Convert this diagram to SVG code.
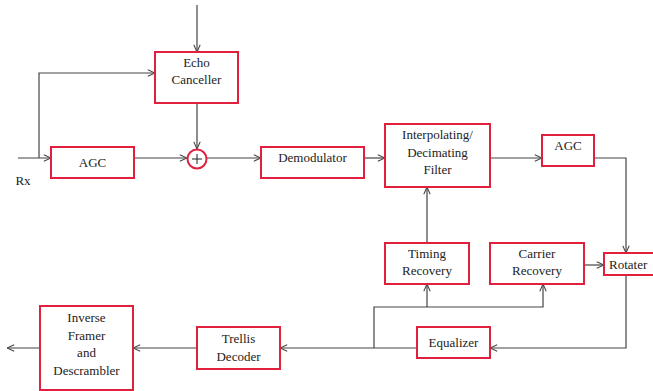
<svg xmlns="http://www.w3.org/2000/svg" width="653" height="391" viewBox="0 0 653 391">
<style>
.box{fill:#fff;stroke:#e0203c;stroke-width:2}
.ln{fill:none;stroke:#444;stroke-width:1.2}
.t{font-family:"Liberation Serif","Times New Roman",serif;font-size:13px;fill:#222;text-anchor:middle}
</style>
<defs>
<marker id="ah" viewBox="0 0 10 10" refX="10" refY="5" markerWidth="8" markerHeight="8" markerUnits="userSpaceOnUse" orient="auto">
<path d="M1,1 L10,5 L1,9" fill="none" stroke="#444" stroke-width="1.3"/>
</marker>
</defs>
<rect width="653" height="391" fill="#fff"/>
<g id="connectors">
<path class="ln" d="M197,5 V52" marker-end="url(#ah)"/>
<path class="ln" d="M39,158 V73 H155" marker-end="url(#ah)"/>
<path class="ln" d="M18,158 H51" marker-end="url(#ah)"/>
<path class="ln" d="M134,158 H187" marker-end="url(#ah)"/>
<path class="ln" d="M197,103 V149" marker-end="url(#ah)"/>
<path class="ln" d="M207,158 H261" marker-end="url(#ah)"/>
<path class="ln" d="M364,158 H385" marker-end="url(#ah)"/>
<path class="ln" d="M490,158 H542" marker-end="url(#ah)"/>
<path class="ln" d="M594,158 H626 V253" marker-end="url(#ah)"/>
<path class="ln" d="M584,265 H604" marker-end="url(#ah)"/>
<path class="ln" d="M427,243 V187" marker-end="url(#ah)"/>
<path class="ln" d="M374,348 V307 H543 V284" marker-end="url(#ah)"/>
<path class="ln" d="M427,307 V284" marker-end="url(#ah)"/>
<path class="ln" d="M626,275 V348 H490" marker-end="url(#ah)"/>
<path class="ln" d="M417,348 H280" marker-end="url(#ah)"/>
<path class="ln" d="M197,348 H133" marker-end="url(#ah)"/>
<path class="ln" d="M40,348 H7" marker-end="url(#ah)"/>
</g>
<g id="echo">
<rect class="box" x="155" y="52" width="83" height="51"/>
<text class="t" x="196.5" y="67">Echo</text>
<text class="t" x="196.5" y="84">Canceller</text>
</g>
<g id="agc1">
<rect class="box" x="51" y="147" width="83" height="31"/>
<text class="t" x="92.5" y="167">AGC</text>
</g>
<g id="sum">
<circle cx="197" cy="159" r="9.5" fill="#fff" stroke="#e0203c" stroke-width="2"/>
<path d="M192,159 H202 M197,154 V164" stroke="#222" stroke-width="1"/>
</g>
<g id="demod">
<rect class="box" x="261" y="147" width="103" height="31"/>
<text class="t" x="312.5" y="162">Demodulator</text>
</g>
<g id="interp">
<rect class="box" x="385" y="124" width="105" height="63"/>
<text class="t" x="437.5" y="139">Interpolating/</text>
<text class="t" x="437.5" y="157">Decimating</text>
<text class="t" x="437.5" y="174">Filter</text>
</g>
<g id="agc2">
<rect class="box" x="542" y="135" width="52" height="31"/>
<text class="t" x="568" y="150">AGC</text>
</g>
<g id="timing">
<rect class="box" x="385" y="243" width="84" height="41"/>
<text class="t" x="427" y="258">Timing</text>
<text class="t" x="427" y="275">Recovery</text>
</g>
<g id="carrier">
<rect class="box" x="490" y="243" width="94" height="41"/>
<text class="t" x="537" y="258">Carrier</text>
<text class="t" x="537" y="275">Recovery</text>
</g>
<g id="rotater">
<rect class="box" x="604" y="253" width="60" height="22"/>
<text class="t" x="609" y="269" style="text-anchor:start">Rotater</text>
</g>
<g id="equalizer">
<rect class="box" x="417" y="327" width="73" height="31"/>
<text class="t" x="453.5" y="347">Equalizer</text>
</g>
<g id="trellis">
<rect class="box" x="197" y="327" width="83" height="42"/>
<text class="t" x="238.5" y="343">Trellis</text>
<text class="t" x="238.5" y="361">Decoder</text>
</g>
<g id="inverse">
<rect class="box" x="40" y="306" width="93" height="84"/>
<text class="t" x="86.5" y="322">Inverse</text>
<text class="t" x="86.5" y="340">Framer</text>
<text class="t" x="86.5" y="357">and</text>
<text class="t" x="86.5" y="375">Descrambler</text>
</g>
<g id="rx-label">
<text class="t" x="23" y="185">Rx</text>
</g>
</svg>
